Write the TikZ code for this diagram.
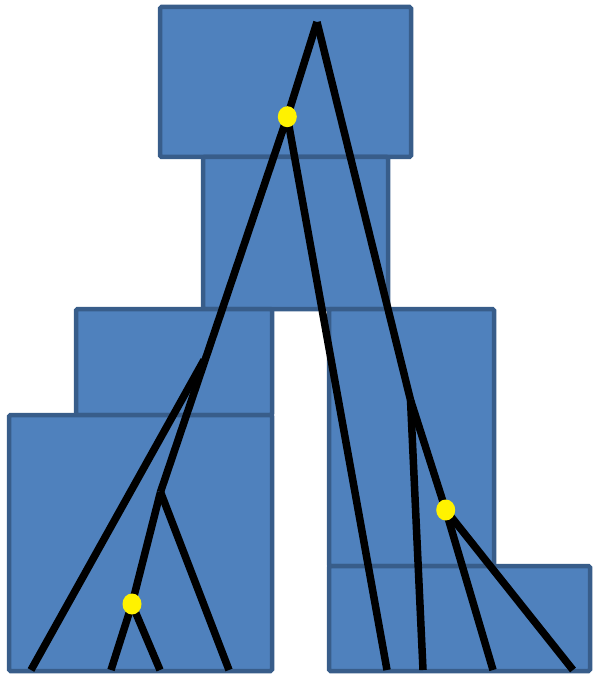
\documentclass[tikz,border=0pt]{standalone}
\usetikzlibrary{shapes.geometric}
\begin{document}
\begin{tikzpicture}[x=1pt,y=-1pt,
  box/.style={fill={rgb,255:red,79;green,129;blue,189},draw={rgb,255:red,56;green,93;blue,138},line width=4.5pt,rounded corners=1.5pt},
  edge/.style={draw=black,line width=7.5pt,line cap=butt},
  dot/.style={ellipse,fill=yellow,inner sep=0pt,minimum width=19pt,minimum height=21pt}]
\useasboundingbox (0,0) rectangle (592,676);
\draw[box] (160,7) rectangle (411,157);
\draw[box] (203,157) rectangle (388,309);
\draw[box] (76,309) rectangle (272,415);
\draw[box] (9,415) rectangle (272,671);
\draw[box] (329,309) rectangle (494,566);
\draw[box] (329,566) rectangle (590,671);
% tree points
\coordinate (root) at (317,22);
\coordinate (a) at (287.3,116.7);
\coordinate (b) at (204,360);
\coordinate (c) at (160.5,492);
\coordinate (d) at (132,604);
\coordinate (r) at (410.5,400);
\coordinate (e) at (445.7,510);
\coordinate (l1) at (31,670);
\coordinate (l2) at (111,670);
\coordinate (l3) at (160,670);
\coordinate (l4) at (229,670);
\coordinate (l5) at (387,670);
\coordinate (l6) at (423,670);
\coordinate (l7) at (493,670);
\coordinate (l8) at (573,670);
\draw[edge] (root) -- (a);
\draw[edge] (a) -- (c);
\draw[edge] (b) -- (l1);
\draw[edge] (c) -- (d);
\draw[edge] (d) -- (l2);
\draw[edge] (d) -- (l3);
\draw[edge] (c) -- (l4);
\draw[edge] (a) -- (l5);
\draw[edge] (root) -- (r);
\draw[edge] (r) -- (l6);
\draw[edge] (r) -- (e);
\draw[edge] (e) -- (l7);
\draw[edge] (e) -- (l8);
\node[dot] (da) at (a) {};
\node[dot] (dd) at (d) {};
\node[dot] (de) at (e) {};
\end{tikzpicture}
\end{document}
